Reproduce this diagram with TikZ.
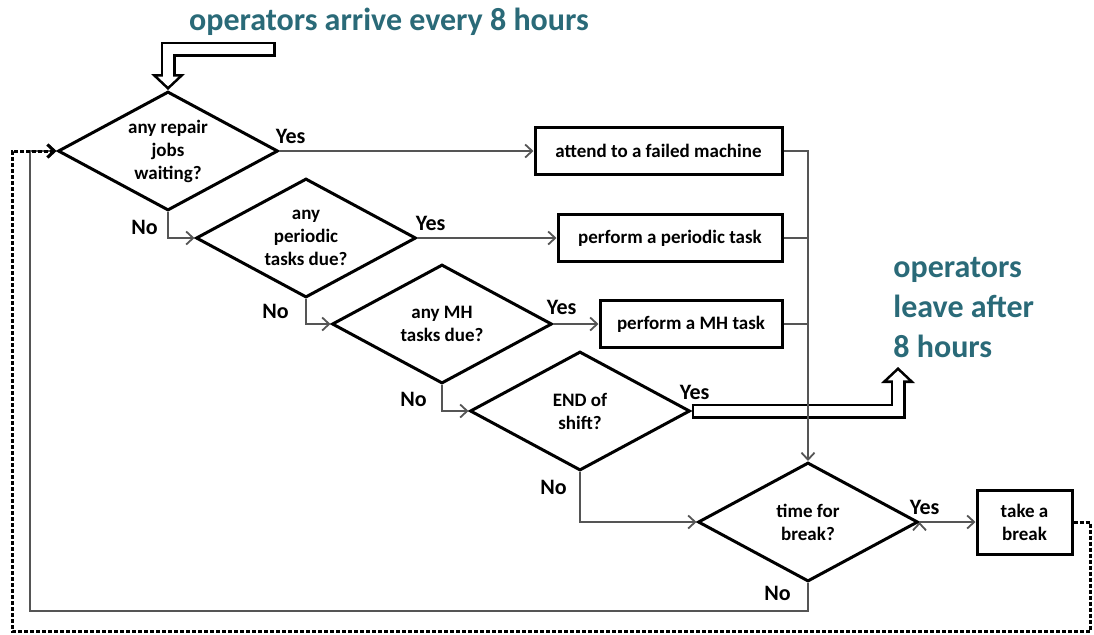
\documentclass[tikz,border=0pt]{standalone}
\usepackage{fontspec}
\setmainfont{Carlito}
\usepackage{tikz}
\definecolor{tealtxt}{RGB}{42,106,120}
\definecolor{wire}{RGB}{85,85,85}
\tikzstyle{decision}=[diamond,draw=black,line width=1.5pt,aspect=1.85,
minimum width=110pt,minimum height=59.5pt,inner sep=0pt,align=center,
font=\fontsize{9.5}{11.5}\selectfont\bfseries]
\tikzstyle{task}=[rectangle,draw=black,line width=1.5pt,minimum height=23.5pt,
inner sep=2pt,align=center,font=\fontsize{9.5}{11.5}\selectfont\bfseries]
\usetikzlibrary{arrows.meta,positioning,shapes.geometric}

\begin{document}
\begin{tikzpicture}[x=0.5pt,y=-0.5pt,>={Straight Barb[length=3.5pt,width=6.5pt]}]
  \tikzstyle{lbl}=[font=\fontsize{11}{13}\selectfont\bfseries,inner sep=0pt]
  \tikzstyle{note}=[text=tealtxt,font=\fontsize{16}{20}\selectfont\bfseries,
  			  align=left,inner sep=0pt]
  \tikzstyle{conn}=[draw=wire,line width=0.9pt]
  \tikzstyle{dotloop}=[draw=black,line width=1.5pt,dash pattern=on 2pt off 1pt]
  \tikzstyle{hollow}=[line width=7.5pt,-{Triangle[length=8pt,width=17pt,line width=0pt]}]
  \tikzstyle{hollowin}=[white,line width=4.9pt,shorten <=1.3pt,shorten >=1.8pt,
  			  -{Triangle[length=4.9pt,width=10.4pt,line width=0pt]}]
  \useasboundingbox (0,0) rectangle (1094,634);

  		% decisions
  		\node[decision] (rep) at (168,151) {any repair\\jobs\\waiting?};
  		\node[decision] (per) at (306,238) {any\\periodic\\tasks due?};
  		\node[decision] (mh) at (442,324) {any MH\\tasks due?};
  		\node[decision] (eos) at (580,411) {END of\\shift?};
  		\node[decision] (brk) at (808,522) {time for\\break?};

  		% tasks
  		\node[task,minimum width=123.5pt] (fix) at (658.5,151) {attend to a failed machine};
  		\node[task,minimum width=112pt] (ptask) at (670,238) {perform a periodic task};
  		\node[task,minimum width=91pt] (mtask) at (691,324) {perform a MH task};
  		\node[task,minimum width=47.5pt,minimum height=32pt] (rest) at (1024.5,522) {take a\\break};

  		% shift start and end
  		\node[note] (arrive) at (389,22) {operators arrive every 8 hours};
  		\node[note,anchor=west] (leave) at (893,308) {operators\\leave after\\8 hours};
  		\coordinate (arrtail) at (276,49);
  		\coordinate (leavetip) at (898,367);
  		\draw[hollow] (arrtail) -| (rep.north);
  		\draw[hollowin] (arrtail) -| (rep.north);
  		\draw[hollow] (eos.east) -| (leavetip);
  		\draw[hollowin] (eos.east) -| (leavetip);

  		% yes branches
  		\path[conn,->] (rep.east) edge (fix) (per.east) edge (ptask)
  		  (mh.east) edge (mtask) (brk.east) edge (rest);
  		\draw[conn,->] (fix.east) -| (brk.north);
  		\draw[conn] (ptask.east) -- (ptask.east -| brk.north);
  		\draw[conn] (mtask.east) -- (mtask.east -| brk.north);

  		% no branches
  		\draw[conn,->] (rep.south) |- (per.west);
  		\draw[conn,->] (per.south) |- (mh.west);
  		\draw[conn,->] (mh.south) |- (eos.west);
  		\draw[conn,->] (eos.south) |- (brk.west);
  		\coordinate (lowleft) at (30,611);
  		\draw[conn,->] (brk.south) |- (lowleft) |- (rep.west);
  		\coordinate (dotse) at (1090,631);
  		\coordinate (dotsw) at (12,631);
  		\draw[dotloop,->] (rest.east) -| (dotse) -- (dotsw) |- (rep.west);

  		% labels
  		\node[lbl,above right=3.5pt and -2pt of rep.east] (y1) {Yes};
  		\node[lbl,above right=3.5pt and -1pt of per.east] (y2) {Yes};
  		\node[lbl,above right=4.5pt and -3.5pt of mh.east] (y3) {Yes};
  		\node[lbl,above right=5.5pt and -6pt of eos.east] (y4) {Yes};
  		\node[lbl,above right=3.5pt and -5pt of brk.east] (y5) {Yes};
  		\node[lbl,below left=4pt and 5pt of rep.south] (n1) {No};
  		\node[lbl,below left=2.5pt and 8.5pt of per.south] (n2) {No};
  		\node[lbl,below left=3.5pt and 7.5pt of mh.south] (n3) {No};
  		\node[lbl,below left=4pt and 6.5pt of eos.south] (n4) {No};
  		\node[lbl,below left=1.5pt and 8.5pt of brk.south] (n5) {No};
	\end{tikzpicture}
\end{document}
